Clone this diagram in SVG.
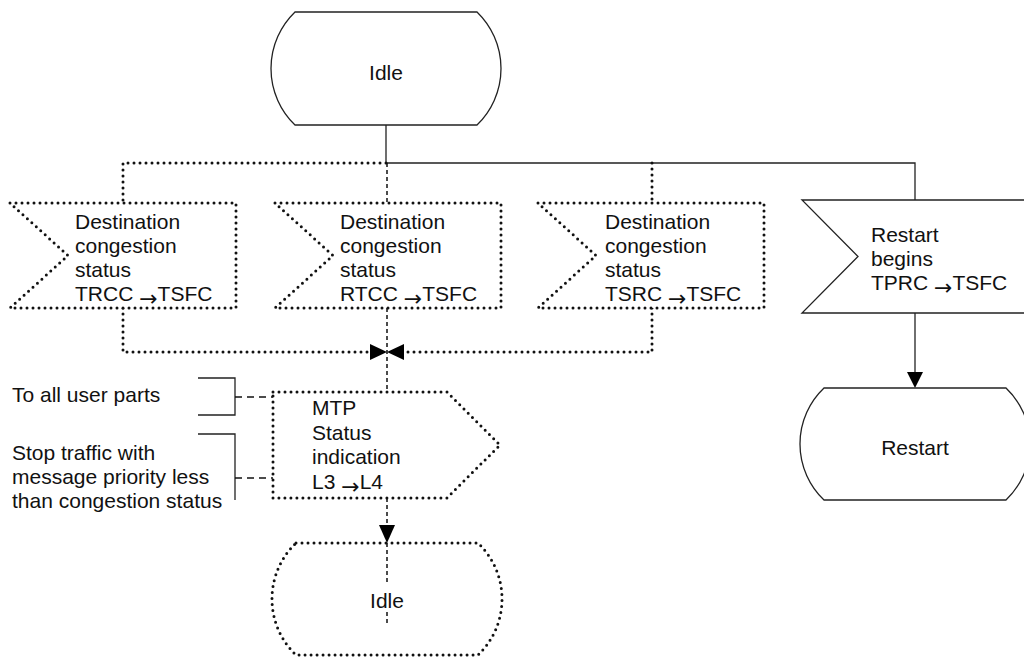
<svg xmlns="http://www.w3.org/2000/svg" width="1024" height="657" viewBox="0 0 1024 657">
<style>
.solid{fill:none;stroke:#222;stroke-width:1.3}
.dot{fill:none;stroke:#111;stroke-width:3;stroke-dasharray:0 6;stroke-linecap:round;stroke-linejoin:round}
.dash{fill:none;stroke:#111;stroke-width:1.5;stroke-dasharray:4 3}
.cdash{fill:none;stroke:#111;stroke-width:1.5;stroke-dasharray:7 5}
.shape{fill:#fff;stroke:#222;stroke-width:1.3}
.dshape{fill:#fff;stroke:#111;stroke-width:3;stroke-dasharray:0 6;stroke-linecap:round;stroke-linejoin:round}
.head{fill:#000;stroke:none}
text{font-family:"Liberation Sans",Arial,sans-serif;font-size:21px;fill:#111}
.c{text-anchor:middle}
.ar{font-family:"DejaVu Sans",sans-serif;font-size:22px}
</style>
<rect width="1024" height="657" fill="#fff"/>
<g id="connectors">
<path class="solid" d="M386,125 V163 H915 V200"/>
<path class="solid" d="M915,313 V372"/>
<path class="head" d="M907,372 L923,372 L915,388 Z"/>
<path class="dot" d="M386,163 H123 V203"/>
<path class="dot" d="M652,163 V203"/>
<path class="dot" d="M123,308 V352 H370"/>
<path class="dot" d="M652,308 V352 H403"/>
<path class="head" d="M370,344 L387,352 L370,360 Z"/>
<path class="head" d="M404,344 L387,352 L404,360 Z"/>
<path class="dash" d="M387,163 V203"/>
<path class="dash" d="M387,308 V392"/>
<path class="dash" d="M387,498 V525"/>
<path class="head" d="M379,525 L395,525 L387,543 Z"/>
<path class="solid" d="M198,378 H235 V415 H198"/>
<path class="solid" d="M198,434 H235 V500"/>
<path class="cdash" d="M235,397 H273"/>
<path class="cdash" d="M235,478 H273"/>
</g>
<g id="idle-top">
<path class="shape" d="M295,12 H477 A78.5,78.5 0 0 1 477,125 H295 A78.5,78.5 0 0 1 295,12 Z"/>
<text class="c" x="386" y="80">Idle</text>
</g>
<g id="input-trcc">
<polygon class="dshape" points="10,203 236,203 236,308 10,308 68,255.5"/>
<text x="75" y="229">Destination</text>
<text x="75" y="253">congestion</text>
<text x="75" y="277">status</text>
<text x="75" y="301">TRCC <tspan class="ar" dy="5">→</tspan><tspan dy="-5">TSFC</tspan></text>
</g>
<g id="input-rtcc">
<polygon class="dshape" points="275,203 501,203 501,308 275,308 333,255.5"/>
<text x="340" y="229">Destination</text>
<text x="340" y="253">congestion</text>
<text x="340" y="277">status</text>
<text x="340" y="301">RTCC <tspan class="ar" dy="5">→</tspan><tspan dy="-5">TSFC</tspan></text>
</g>
<g id="input-tsrc">
<polygon class="dshape" points="538,203 764,203 764,308 538,308 596,255.5"/>
<text x="605" y="229">Destination</text>
<text x="605" y="253">congestion</text>
<text x="605" y="277">status</text>
<text x="605" y="301">TSRC <tspan class="ar" dy="5">→</tspan><tspan dy="-5">TSFC</tspan></text>
</g>
<g id="input-restart">
<polygon class="shape" points="802,200 1030,200 1030,313 802,313 858,256.5"/>
<text x="871" y="242">Restart</text>
<text x="871" y="266">begins</text>
<text x="871" y="290">TPRC <tspan class="ar" dy="5">→</tspan><tspan dy="-5">TSFC</tspan></text>
</g>
<g id="state-restart">
<path class="shape" d="M824,388 H1006 A77.3,77.3 0 0 1 1006,500 H824 A77.3,77.3 0 0 1 824,388 Z"/>
<text class="c" x="915" y="455">Restart</text>
</g>
<g id="output-mtp">
<polygon class="dshape" points="273,392 447,392 500,445 447,498 273,498"/>
<text x="312" y="415">MTP</text>
<text x="312" y="440">Status</text>
<text x="312" y="464">indication</text>
<text x="312" y="489">L3 <tspan class="ar" dy="5">→</tspan><tspan dy="-5">L4</tspan></text>
</g>
<g id="comment-users">
<text x="12" y="402">To all user parts</text>
</g>
<g id="comment-stop">
<text x="12" y="460">Stop traffic with</text>
<text x="12" y="484">message priority less</text>
<text x="12" y="508">than congestion status</text>
</g>
<g id="idle-bottom">
<path class="dshape" d="M296,543 H478 A77.3,77.3 0 0 1 478,655 H296 A77.3,77.3 0 0 1 296,543 Z"/>
<path class="dash" d="M387,543 V582 M387,612 V626"/>
<text class="c" x="387" y="608">Idle</text>
</g>
</svg>
